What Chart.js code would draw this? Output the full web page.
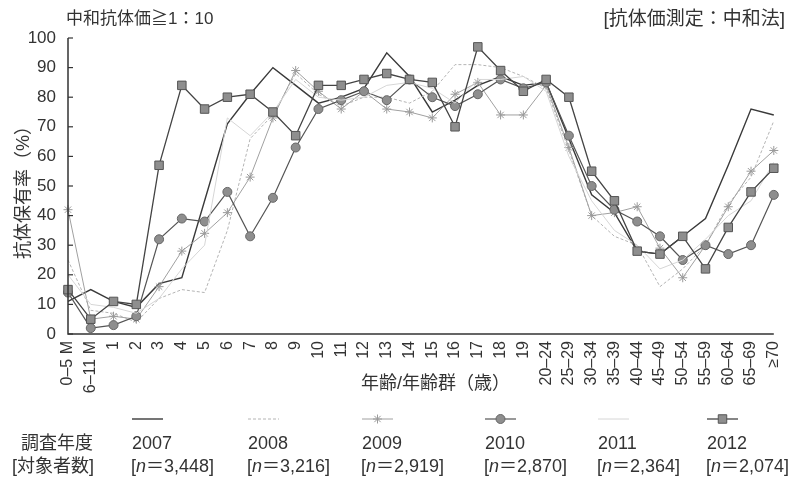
<!DOCTYPE html>
<html>
<head>
<meta charset="utf-8">
<script src="https://cdn.jsdelivr.net/npm/chart.js@4.4.1/dist/chart.umd.min.js"></script>
<style>
  html, body { margin: 0; padding: 0; background: #fff; }
  #wrap { position: relative; width: 800px; height: 478px; overflow: hidden;
          font-family: "Liberation Sans", "Noto Sans CJK JP", sans-serif; color: #333; }
  #c { position: absolute; left: 0; top: 0; }
  .t { position: absolute; white-space: nowrap; line-height: 1; }
</style>
</head>
<body>
<div id="wrap">
  <canvas id="c" width="800" height="478"></canvas>
  <div class="t" style="left:66px; top:10px; font-size:17px;">中和抗体価≧1：10</div>
  <div class="t" style="right:15px; top:9px; font-size:19px;">[抗体価測定：中和法]</div>
  <div class="t" id="ytitle" style="font-size:18px;">抗体保有率（%）</div>
  <div class="t" style="left:361px; top:374px; font-size:18px;">年齢/年齢群（歳）</div>
  <div class="t" style="left:21px; top:434px; font-size:18px;">調査年度</div>
  <div class="t" style="left:12px; top:457px; font-size:18px;">[対象者数]</div>
  <div id="legendText"></div>
</div>
<script>
// Age groups on the x axis
const ageGroups = ['0–5 M', '6–11 M', '1', '2', '3', '4', '5', '6', '7', '8', '9', '10',
  '11', '12', '13', '14', '15', '16', '17', '18', '19', '20–24', '25–29', '30–34',
  '35–39', '40–44', '45–49', '50–54', '55–59', '60–64', '65–69', '≥70'];

// Survey years and number of subjects
const surveyYears = ['2007', '2008', '2009', '2010', '2011', '2012'];
const subjectCounts = ['3,448', '3,216', '2,919', '2,870', '2,364', '2,074'];

// Antibody-positive rate (%) per age group, one array per survey year
const rate2007 = [11, 15, 11, 9, 17, 19, 45, 71, 81, 90, 84, 78, 80, 83, 95, 87, 75, 79, 84, 87, 84, 85, 66, 47, 41, 28, 27, 33, 39, 57, 76, 74];
const rate2008 = [25, 8, 7, 4, 12, 15, 14, 35, 66, 74, 88, 81, 77, 80, 80, 78, 82, 91, 91, 90, 87, 83, 62, 40, 33, 30, 16, 22, 30, 44, 53, 72];
const rate2009 = [42, 5, 6, 5, 16, 28, 34, 41, 53, 73, 89, 82, 76, 82, 76, 75, 73, 81, 85, 74, 74, 84, 63, 40, 41, 43, 29, 19, 30, 43, 55, 62];
const rate2010 = [14, 2, 3, 6, 32, 39, 38, 48, 33, 46, 63, 76, 79, 82, 79, 86, 80, 77, 81, 86, 83, 85, 67, 50, 42, 38, 33, 25, 30, 27, 30, 47];
const rate2011 = [20, 10, 9, 7, 12, 22, 30, 73, 67, 75, 86, 80, 79, 80, 84, 85, 83, 78, 86, 86, 87, 82, 60, 45, 35, 30, 22, 25, 32, 40, 45, 58];
const rate2012 = [15, 5, 11, 10, 57, 84, 76, 80, 81, 75, 67, 84, 84, 86, 88, 86, 85, 70, 97, 89, 82, 86, 80, 55, 45, 28, 27, 33, 22, 36, 48, 56];

const yTicks = [0, 10, 20, 30, 40, 50, 60, 70, 80, 90, 100];

const FONT = '"Liberation Sans", "Noto Sans CJK JP", sans-serif';
const INK = '#333';

// Legend column positions (left edge of each column)
const legendCols = [132, 248, 362, 485, 598, 707];

// Legend text (year + subject count)
const lt = document.getElementById('legendText');
surveyYears.forEach((y, i) => {
  const a = document.createElement('div');
  a.className = 't';
  a.style.cssText = `left:${legendCols[i]}px; top:434px; font-size:18px;`;
  a.textContent = y;
  lt.appendChild(a);
  const b = document.createElement('div');
  b.className = 't';
  b.style.cssText = `left:${legendCols[i] - 1}px; top:457px; font-size:18px;`;
  b.innerHTML = `[<i>n</i>＝${subjectCounts[i]}]`;
  lt.appendChild(b);
});

// Rotated y-axis title
const yt = document.getElementById('ytitle');
yt.style.left = '23px';
yt.style.top = '188px';
yt.style.transform = 'translate(-50%, -50%) rotate(-90deg)';

const series = [
  { data: rate2007, borderColor: '#3a3a3a', borderWidth: 1.4, pointRadius: 0, order: 5 },
  { data: rate2008, borderColor: '#b4b4b4', borderWidth: 1, borderDash: [3, 2], pointRadius: 0, order: 4 },
  { data: rate2009, borderColor: '#a0a0a0', borderWidth: 1, pointStyle: 'star', pointRadius: 4.5,
    pointBorderColor: '#9a9a9a', pointBorderWidth: 1, pointBackgroundColor: '#9a9a9a', order: 3 },
  { data: rate2010, borderColor: '#555', borderWidth: 1.2, pointStyle: 'circle', pointRadius: 4.5,
    pointBackgroundColor: '#8e8e8e', pointBorderColor: '#666', pointBorderWidth: 1, order: 2 },
  { data: rate2011, borderColor: '#d6d6d6', borderWidth: 1, pointRadius: 0, order: 1 },
  { data: rate2012, borderColor: '#444', borderWidth: 1.3, pointStyle: 'rect', pointRadius: 6,
    pointBackgroundColor: '#8e8e8e', pointBorderColor: '#555', pointBorderWidth: 1, order: 0 }
];

series.forEach((s, i) => {
  s.label = surveyYears[i];
  s.fill = false;
  s.tension = 0;
});

// Axis lines, inward ticks and legend samples
const decor = {
  id: 'decor',
  afterDraw(chart) {
    const { ctx, chartArea: a, scales } = chart;
    ctx.save();
    ctx.strokeStyle = INK;
    ctx.lineWidth = 1.5;
    ctx.beginPath();
    ctx.moveTo(a.left, a.top);
    ctx.lineTo(a.left, a.bottom);
    ctx.lineTo(a.right, a.bottom);
    ctx.stroke();
    ctx.lineWidth = 1.2;
    yTicks.forEach(v => {
      const y = scales.y.getPixelForValue(v);
      ctx.beginPath();
      ctx.moveTo(a.left, y);
      ctx.lineTo(a.left + 5, y);
      ctx.stroke();
    });
    ctx.restore();

    // legend samples
    chart.data.datasets.forEach((ds, i) => {
      const x0 = legendCols[i], x1 = x0 + 31, y = 419;
      ctx.save();
      ctx.strokeStyle = ds.borderColor;
      ctx.lineWidth = ds.borderWidth;
      ctx.setLineDash(ds.borderDash || []);
      ctx.beginPath();
      ctx.moveTo(x0, y);
      ctx.lineTo(x1, y);
      ctx.stroke();
      ctx.setLineDash([]);
      if (ds.pointRadius) {
        ctx.fillStyle = ds.pointBackgroundColor;
        ctx.strokeStyle = ds.pointBorderColor;
        ctx.lineWidth = ds.pointBorderWidth;
        Chart.helpers.drawPoint(ctx, { pointStyle: ds.pointStyle, radius: ds.pointRadius, borderWidth: ds.pointBorderWidth },
          (x0 + x1) / 2, y);
      }
      ctx.restore();
    });
  }
};

new Chart(document.getElementById('c').getContext('2d'), {
  type: 'line',
  data: { labels: ageGroups, datasets: series },
  options: {
    responsive: false,
    animation: false,
    events: [],
    layout: { padding: { top: 38, right: 15, left: 0, bottom: 0 } },
    plugins: { legend: { display: false }, tooltip: { enabled: false } },
    scales: {
      x: {
        type: 'category',
        offset: false,
        grid: { display: false, drawTicks: false },
        border: { display: false },
        ticks: { autoSkip: false, minRotation: 90, maxRotation: 90, padding: 7,
                 color: INK, font: { family: FONT, size: 16 } },
        afterFit(s) { s.height = 144; }
      },
      y: {
        min: 0, max: 100,
        grid: { display: false, drawTicks: false },
        border: { display: false },
        afterBuildTicks(s) { s.ticks = yTicks.map(v => ({ value: v })); },
        ticks: { padding: 12, color: INK, font: { family: FONT, size: 17 } },
        afterFit(s) { s.width = 68; }
      }
    }
  },
  plugins: [decor]
});
</script>
</body>
</html>
